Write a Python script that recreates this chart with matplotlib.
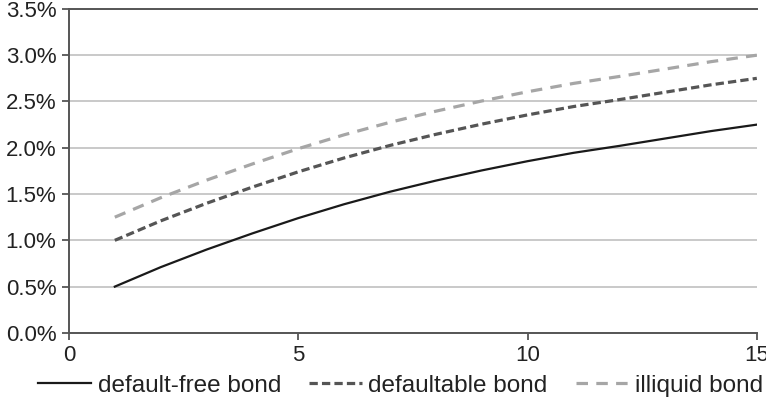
import matplotlib
matplotlib.use("Agg")
from matplotlib import pyplot as plt
from matplotlib.ticker import FuncFormatter

plt.rcParams['font.family'] = ['Liberation Sans', 'DejaVu Sans']

years = [1, 2, 3, 4, 5, 6, 7, 8, 9, 10, 11, 12, 13, 14, 15]
default_free = [0.50, 0.71, 0.90, 1.075, 1.24, 1.39, 1.525, 1.645, 1.755, 1.855, 1.945, 2.02, 2.10, 2.18, 2.25]
defaultable = [1.00, 1.21, 1.40, 1.575, 1.74, 1.89, 2.025, 2.145, 2.255, 2.355, 2.445, 2.52, 2.60, 2.68, 2.75]
illiquid = [1.25, 1.46, 1.65, 1.825, 1.99, 2.14, 2.275, 2.395, 2.505, 2.605, 2.695, 2.77, 2.85, 2.93, 3.00]
labels = ['default-free bond', 'defaultable bond', 'illiquid bond']

fig = plt.figure(figsize=(7.66, 4.05), dpi=100)
ax = fig.add_axes([0.090, 0.178, 0.898, 0.800])

ax.plot(years, default_free, color='#1a1a1a', lw=1.6, label=labels[0])
ax.plot(years, defaultable, color='#555555', lw=2.3, dashes=(2.6, 1.3), label=labels[1])
ax.plot(years, illiquid, color='#a6a6a6', lw=2.3, dashes=(3.6, 2.6), label=labels[2])

ax.set_xlim(0, 15)
ax.set_ylim(0, 3.5)
ax.set_xticks([0, 5, 10, 15])
ax.set_yticks([0, 0.5, 1.0, 1.5, 2.0, 2.5, 3.0, 3.5])
ax.yaxis.set_major_formatter(FuncFormatter(lambda v, p: '%.1f%%' % v))
ax.grid(axis='y', color='#bbbbbb', lw=1.1)
ax.set_axisbelow(True)
ax.tick_params(labelsize=16, length=5, width=1.3, color='#555555', labelcolor='#222222',
               direction='out', pad=4)

ax.spines['right'].set_visible(False)
for s in ['left', 'bottom', 'top']:
    ax.spines[s].set_color('#555555')
    ax.spines[s].set_linewidth(1.4)

fig.legend(loc='center left', bbox_to_anchor=(0.0496, 0.048), ncol=3, frameon=False,
           fontsize=17.5, handlelength=2.2, handletextpad=0.25, columnspacing=1.15,
           borderpad=0, borderaxespad=0, labelcolor='#222222')

fig.savefig('out.png', dpi=100)
